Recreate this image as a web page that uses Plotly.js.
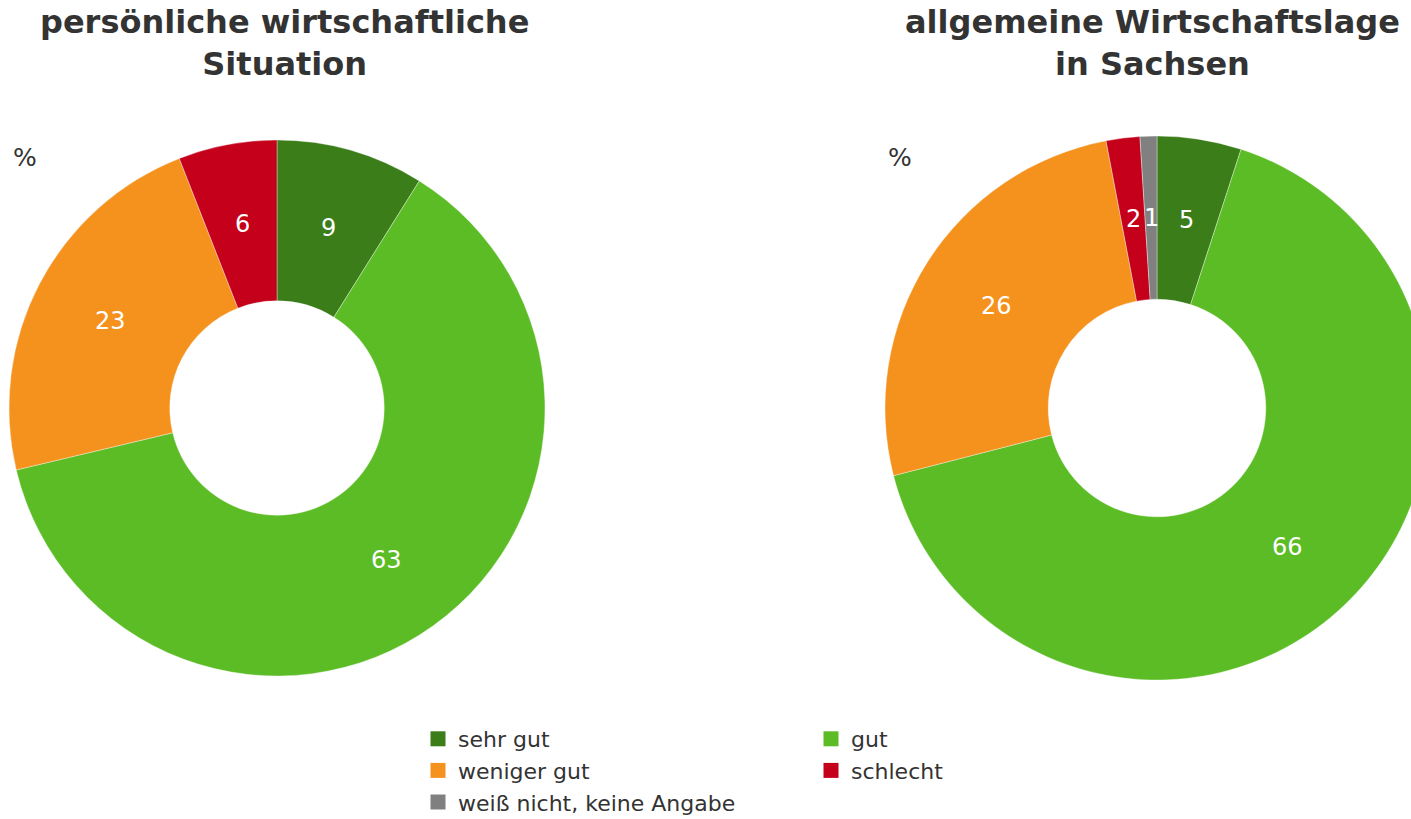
<!DOCTYPE html>
<html><head><meta charset="utf-8">
<script src="https://cdn.plot.ly/plotly-3.0.1.min.js"></script>
<style>html,body{margin:0;padding:0;overflow:hidden;background:#fff;width:1411px;height:819px}</style>
</head><body><div id="chart" style="width:1440px;height:819px"></div>
<script>
const categories = ["sehr gut", "gut", "weniger gut", "schlecht", "weiß nicht, keine Angabe"];
const colors = ["#3A7D19", "#5BBC26", "#F5921E", "#C5001B", "#808080"];
const legendColumns = ["a", "b", "a", "b", "a"];
const personalLabels = ["sehr gut", "gut", "weniger gut", "schlecht"];
const personalValues = [9, 63, 23, 6];
const generalLabels = ["sehr gut", "gut", "weniger gut", "schlecht", "weiß nicht, keine Angabe"];
const generalValues = [5, 66, 26, 2, 1];
const titles = ["persönliche wirtschaftliche<br>Situation", "allgemeine Wirtschaftslage<br>in Sachsen"];

const colorOf = l => colors[categories.indexOf(l)];
const W = 1440, H = 819;
const pies = [
  {labels: personalLabels, values: personalValues, cx: 277, cy: 408, r: 268},
  {labels: generalLabels, values: generalValues, cx: 1157, cy: 408, r: 272}
];
const hole = 0.4;
const data = pies.map(p => ({
  type: "pie", labels: p.labels, values: p.values, hole: hole, sort: false,
  direction: "clockwise", rotation: 0, showlegend: false,
  marker: {colors: p.labels.map(colorOf), line: {color: "rgba(255,255,255,0.6)", width: 0.6}},
  textinfo: "none", hoverinfo: "label+value",
  domain: {x: [(p.cx - p.r) / W, (p.cx + p.r) / W], y: [1 - (p.cy + p.r) / H, 1 - (p.cy - p.r) / H]}
}));
// legend entries (one per category), arranged in two columns
categories.forEach((c, i) => data.push({
  type: "scatter", mode: "markers", x: [null], y: [null], name: c,
  legendgroup: legendColumns[i], showlegend: true, hoverinfo: "skip",
  marker: {symbol: "square", size: 15, color: colors[i]}
}));

// value labels placed at the middle of each ring segment
const valueLabels = [];
pies.forEach(p => {
  const total = p.values.reduce((a, b) => a + b, 0);
  const rm = p.r * (1 + hole) / 2;
  let cum = 0;
  p.values.forEach(v => {
    const th = 2 * Math.PI * (cum + v / 2) / total;
    cum += v;
    valueLabels.push({text: String(v), showarrow: false, xref: "paper", yref: "paper",
      x: (p.cx + rm * Math.sin(th)) / W, y: 1 - (p.cy - rm * Math.cos(th)) / H,
      xanchor: "center", yanchor: "middle",
      font: {size: 24, family: "DejaVu Sans", color: "#ffffff"}});
  });
});

const layout = {
  width: W, height: H, margin: {l: 0, r: 0, t: 0, b: 0, autoexpand: false},
  paper_bgcolor: "#fff", plot_bgcolor: "rgba(0,0,0,0)",
  font: {family: "DejaVu Sans", color: "#333"},
  xaxis: {visible: false}, yaxis: {visible: false},
  showlegend: true,
  legend: {orientation: "h", x: 418/W, xanchor: "left", y: 1-718/H, yanchor: "top",
    entrywidth: 348, entrywidthmode: "pixels", traceorder: "grouped", maxheight: 300,
    font: {size: 22, family: "DejaVu Sans", color: "#333"}, itemwidth: 30, tracegroupgap: 0},
  annotations: [
    {text: titles[0], x: 284/W, y: 1-1/H, xref: "paper", yref: "paper", xanchor: "center", yanchor: "top", showarrow: false,
     font: {size: 32, family: "DejaVu Sans", color: "#333", weight: "bold"}},
    {text: titles[1], x: 1152/W, y: 1-1/H, xref: "paper", yref: "paper", xanchor: "center", yanchor: "top", showarrow: false,
     font: {size: 32, family: "DejaVu Sans", color: "#333", weight: "bold"}},
    {text: "%", x: 11/W, y: 1-158/H, xref: "paper", yref: "paper", xanchor: "left", yanchor: "middle", showarrow: false,
     font: {size: 25, family: "DejaVu Sans", color: "#333"}},
    {text: "%", x: 886/W, y: 1-158/H, xref: "paper", yref: "paper", xanchor: "left", yanchor: "middle", showarrow: false,
     font: {size: 25, family: "DejaVu Sans", color: "#333"}}
  ].concat(valueLabels)
};
Plotly.newPlot("chart", data, layout, {displayModeBar: false, staticPlot: true});
</script></body></html>
